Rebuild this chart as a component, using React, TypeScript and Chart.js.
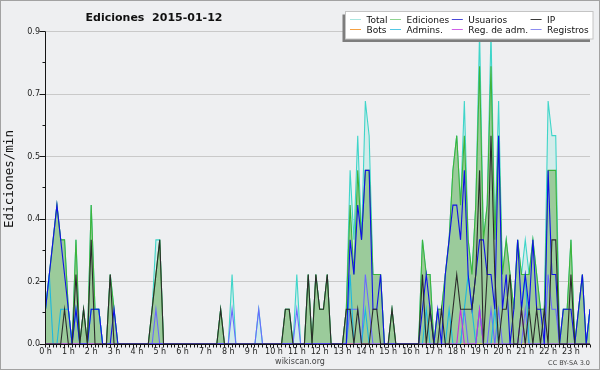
import React, { useEffect, useRef } from "react";
import { Chart, registerables } from "chart.js";

Chart.register(...registerables);

// ---- data (edits per minute, 10-minute bins, 144 per day) ----
const HOUR_LABELS = [
  "0 h", "1 h", "2 h", "3 h", "4 h", "5 h", "6 h", "7 h", "8 h", "9 h", "10 h", "11 h",
  "12 h", "13 h", "14 h", "15 h", "16 h", "17 h", "18 h", "19 h", "20 h", "21 h", "22 h", "23 h",
];
const Y_TICKS = [0, 0.18, 0.36, 0.54, 0.72, 0.9];
const Y_LABELS = ["0.0", "0.2", "0.4", "0.5", "0.7", "0.9"];

const total = [
  0.1, 0.2, 0.3, 0.4, 0.3, 0.3,
  0.1, 0, 0.3, 0, 0.1, 0,
  0.4, 0.1, 0.1, 0, 0, 0.2,
  0.1, 0, 0, 0, 0, 0,
  0, 0, 0, 0, 0.1, 0.3,
  0.3, 0, 0, 0, 0, 0,
  0, 0, 0, 0, 0, 0,
  0, 0, 0, 0, 0.1, 0,
  0, 0.2, 0, 0, 0, 0,
  0, 0, 0.1, 0, 0, 0,
  0, 0, 0, 0.1, 0.1, 0,
  0.2, 0, 0, 0.2, 0, 0.2,
  0.1, 0.1, 0.2, 0, 0, 0,
  0, 0.1, 0.5, 0.3, 0.6, 0.3,
  0.7, 0.6, 0.2, 0.2, 0.2, 0,
  0, 0.1, 0, 0, 0, 0,
  0, 0, 0, 0.3, 0.2, 0.2,
  0, 0.1, 0.1, 0.2, 0.3, 0.5,
  0.6, 0.4, 0.7, 0.3, 0.2, 0.4,
  0.9, 0.3, 0.4, 0.9, 0.3, 0.7,
  0.2, 0.3, 0.2, 0.1, 0.3, 0.2,
  0.3, 0.2, 0.3, 0.2, 0.1, 0.1,
  0.7, 0.6, 0.6, 0, 0.1, 0.1,
  0.3, 0, 0.1, 0.2, 0, 0.1,
];

const ediciones = [
  0.1, 0.2, 0.3, 0.4, 0.3, 0.3,
  0.1, 0, 0.3, 0, 0.1, 0,
  0.4, 0.1, 0.1, 0, 0, 0.2,
  0.1, 0, 0, 0, 0, 0,
  0, 0, 0, 0, 0.1, 0.2,
  0.3, 0, 0, 0, 0, 0,
  0, 0, 0, 0, 0, 0,
  0, 0, 0, 0, 0.1, 0,
  0, 0, 0, 0, 0, 0,
  0, 0, 0, 0, 0, 0,
  0, 0, 0, 0.1, 0.1, 0,
  0, 0, 0, 0.2, 0, 0.2,
  0.1, 0.1, 0.2, 0, 0, 0,
  0, 0.1, 0.4, 0.2, 0.5, 0.3,
  0.5, 0.5, 0.2, 0.2, 0.2, 0,
  0, 0.1, 0, 0, 0, 0,
  0, 0, 0, 0.3, 0.2, 0.2,
  0, 0.1, 0.1, 0.2, 0.3, 0.5,
  0.6, 0.4, 0.6, 0.3, 0.2, 0.4,
  0.8, 0.3, 0.4, 0.8, 0.3, 0.6,
  0.2, 0.3, 0.2, 0.1, 0.3, 0.2,
  0.2, 0.2, 0.3, 0.2, 0.1, 0.1,
  0.5, 0.5, 0.5, 0, 0.1, 0.1,
  0.3, 0, 0.1, 0.2, 0, 0.1,
];

const usuarios = [
  0.1, 0.2, 0.3, 0.4, 0.3, 0.2,
  0.1, 0, 0.1, 0, 0, 0,
  0.1, 0.1, 0.1, 0, 0, 0,
  0.1, 0, 0, 0, 0, 0,
  0, 0, 0, 0, 0, 0,
  0, 0, 0, 0, 0, 0,
  0, 0, 0, 0, 0, 0,
  0, 0, 0, 0, 0, 0,
  0, 0, 0, 0, 0, 0,
  0, 0, 0, 0, 0, 0,
  0, 0, 0, 0, 0, 0,
  0, 0, 0, 0, 0, 0,
  0, 0, 0, 0, 0, 0,
  0, 0, 0.3, 0.2, 0.4, 0.3,
  0.5, 0.5, 0.1, 0.1, 0.2, 0,
  0, 0, 0, 0, 0, 0,
  0, 0, 0, 0.1, 0.2, 0.1,
  0, 0.1, 0, 0.2, 0.3, 0.4,
  0.4, 0.3, 0.5, 0.2, 0.1, 0.2,
  0.3, 0.3, 0.2, 0.2, 0.1, 0.6,
  0.1, 0.2, 0, 0.1, 0.3, 0.1,
  0.2, 0.1, 0.3, 0.1, 0.1, 0,
  0.5, 0.2, 0.2, 0, 0.1, 0.1,
  0.1, 0, 0.1, 0.2, 0, 0.1,
];

const ip = [
  0, 0, 0, 0, 0, 0.1,
  0, 0, 0.2, 0, 0.1, 0,
  0.3, 0, 0, 0, 0, 0.2,
  0, 0, 0, 0, 0, 0,
  0, 0, 0, 0, 0.1, 0.2,
  0.3, 0, 0, 0, 0, 0,
  0, 0, 0, 0, 0, 0,
  0, 0, 0, 0, 0.1, 0,
  0, 0, 0, 0, 0, 0,
  0, 0, 0, 0, 0, 0,
  0, 0, 0, 0.1, 0.1, 0,
  0, 0, 0, 0.2, 0, 0.2,
  0.1, 0.1, 0.2, 0, 0, 0,
  0, 0.1, 0.1, 0, 0.1, 0,
  0, 0, 0.1, 0.1, 0, 0,
  0, 0.1, 0, 0, 0, 0,
  0, 0, 0, 0.2, 0, 0.1,
  0, 0, 0.1, 0, 0, 0.1,
  0.2, 0.1, 0.1, 0.1, 0.1, 0.2,
  0.5, 0, 0.2, 0.6, 0.2, 0,
  0.1, 0.1, 0.2, 0, 0, 0.1,
  0, 0.1, 0, 0.1, 0, 0.1,
  0, 0.3, 0.3, 0, 0, 0,
  0.2, 0, 0, 0, 0, 0,
];

const bots = [
  0, 0, 0, 0, 0, 0, 0, 0, 0, 0, 0, 0, 0, 0, 0, 0, 0, 0, 0, 0, 0, 0, 0, 0,
  0, 0, 0, 0, 0, 0, 0, 0, 0, 0, 0, 0, 0, 0, 0, 0, 0, 0, 0, 0, 0, 0, 0, 0,
  0, 0, 0, 0, 0, 0, 0, 0, 0, 0, 0, 0, 0, 0, 0, 0, 0, 0, 0, 0, 0, 0, 0, 0,
  0, 0, 0, 0, 0, 0, 0, 0, 0, 0, 0, 0, 0, 0, 0, 0, 0, 0, 0, 0, 0, 0, 0, 0,
  0, 0, 0, 0, 0, 0, 0, 0, 0, 0, 0, 0, 0, 0, 0, 0, 0, 0, 0, 0, 0, 0, 0, 0,
  0, 0, 0, 0, 0, 0, 0, 0, 0, 0, 0, 0, 0, 0, 0, 0, 0, 0, 0, 0, 0, 0, 0, 0,
];

const admins = [
  0.1, 0.2, 0, 0, 0.1, 0.1,
  0.1, 0, 0.1, 0, 0, 0,
  0.1, 0.1, 0.1, 0, 0, 0,
  0, 0, 0, 0, 0, 0,
  0, 0, 0, 0, 0, 0,
  0, 0, 0, 0, 0, 0,
  0, 0, 0, 0, 0, 0,
  0, 0, 0, 0, 0, 0,
  0, 0, 0, 0, 0, 0,
  0, 0, 0, 0, 0, 0,
  0, 0, 0, 0, 0, 0,
  0, 0, 0, 0, 0, 0,
  0, 0, 0, 0, 0, 0,
  0, 0, 0.2, 0, 0, 0,
  0.1, 0, 0, 0, 0, 0,
  0, 0, 0, 0, 0, 0,
  0, 0, 0, 0, 0.1, 0,
  0, 0, 0, 0, 0.1, 0,
  0, 0, 0.1, 0.2, 0.1, 0,
  0.1, 0, 0, 0, 0.1, 0,
  0, 0, 0, 0, 0, 0.1,
  0.2, 0, 0, 0, 0, 0,
  0, 0, 0, 0, 0, 0,
  0, 0, 0, 0, 0, 0.1,
];

const regAdm = [
  0, 0, 0, 0, 0, 0, 0, 0, 0, 0, 0, 0, 0, 0, 0, 0, 0, 0, 0, 0, 0, 0, 0, 0,
  0, 0, 0, 0, 0, 0, 0, 0, 0, 0, 0, 0, 0, 0, 0, 0, 0, 0, 0, 0, 0, 0, 0, 0,
  0, 0, 0, 0, 0, 0, 0, 0, 0, 0, 0, 0, 0, 0, 0, 0, 0, 0, 0, 0, 0, 0, 0, 0,
  0, 0, 0, 0, 0, 0, 0, 0, 0, 0, 0, 0, 0, 0, 0, 0, 0, 0, 0, 0, 0, 0, 0, 0,
  0, 0, 0, 0, 0, 0, 0, 0, 0, 0, 0, 0, 0, 0.1, 0, 0, 0, 0, 0.1, 0, 0, 0, 0, 0,
  0, 0, 0, 0, 0, 0.1, 0, 0, 0, 0, 0, 0, 0, 0, 0, 0, 0, 0, 0, 0, 0, 0, 0, 0,
];

const registros = [
  0, 0, 0, 0, 0, 0,
  0, 0, 0, 0, 0, 0,
  0, 0, 0, 0, 0, 0,
  0, 0, 0, 0, 0, 0,
  0, 0, 0, 0, 0, 0.1,
  0, 0, 0, 0, 0, 0,
  0, 0, 0, 0, 0, 0,
  0, 0, 0, 0, 0, 0,
  0, 0.1, 0, 0, 0, 0,
  0, 0, 0.1, 0, 0, 0,
  0, 0, 0, 0, 0, 0,
  0.1, 0, 0, 0, 0, 0,
  0, 0, 0, 0, 0, 0,
  0, 0, 0.1, 0.1, 0.1, 0,
  0.2, 0.1, 0, 0, 0, 0,
  0, 0, 0, 0, 0, 0,
  0, 0, 0, 0, 0, 0,
  0, 0, 0, 0, 0, 0,
  0, 0, 0.1, 0, 0, 0,
  0.1, 0, 0, 0.1, 0, 0.1,
  0, 0, 0, 0, 0, 0,
  0.1, 0, 0, 0, 0, 0,
  0.2, 0.1, 0.1, 0, 0, 0,
  0, 0, 0, 0, 0, 0,
];

const LEGEND_NAMES = ["Total", "Ediciones", "Usuarios", "IP", "Bots", "Admins.", "Reg. de adm.", "Registros"];
const LEGEND_COLORS = ["#a9e6e0", "#8fd48f", "#4848d8", "#3a3a3a", "#f5a142", "#52c8e4", "#d060e8", "#8c8cf0"];

const FONT = '"DejaVu Sans", Verdana, sans-serif';
const BG = "#eeeff1";
const AXIS = "#151515";

const pts = (arr: number[]) => arr.map((v, i) => ({ x: i, y: v }));

const decor = {
  id: "decor",
  beforeDraw(chart: any) {
    const { ctx, width, height } = chart;
    ctx.save();
    ctx.fillStyle = BG;
    ctx.fillRect(0, 0, width, height);
    ctx.restore();
  },
  afterDatasetsDraw(chart: any) {
    const { ctx, chartArea, scales } = chart;
    const { left, right, top, bottom } = chartArea;
    const x = scales.x;
    const y = scales.y;
    ctx.save();
    ctx.strokeStyle = AXIS;
    ctx.lineWidth = 1;
    ctx.beginPath();
    const ax = Math.floor(left) + 0.5;
    const by = Math.floor(bottom) + 0.5;
    ctx.moveTo(ax, top);
    ctx.lineTo(ax, by);
    ctx.lineTo(right, by);
    // y ticks: major at labelled values, minor halfway
    for (let k = 0; k <= 10; k++) {
      const v = (k * 0.9) / 10;
      const py = Math.floor(y.getPixelForValue(v)) + 0.5;
      const len = k % 2 === 0 ? 6 : 3;
      ctx.moveTo(ax - len, py);
      ctx.lineTo(ax, py);
    }
    // x ticks: every 10 minutes
    for (let i = 0; i <= 143; i++) {
      const px = Math.floor(x.getPixelForValue(i)) + 0.5;
      ctx.moveTo(px, by);
      ctx.lineTo(px, by + 3);
    }
    ctx.stroke();
    ctx.restore();
  },
  afterDraw(chart: any) {
    const { ctx, width, height } = chart;
    ctx.save();
    // title
    ctx.fillStyle = "#111";
    ctx.font = `bold 11px ${FONT}`;
    ctx.textAlign = "center";
    ctx.textBaseline = "alphabetic";
    ctx.fillText("Ediciones  2015-01-12", 154, 21);

    // y axis title
    ctx.save();
    ctx.translate(10, 179);
    ctx.rotate(-Math.PI / 2);
    ctx.font = `12.5px "DejaVu Sans Mono", monospace`;
    ctx.textAlign = "center";
    ctx.textBaseline = "middle";
    ctx.fillStyle = "#111";
    ctx.fillText("Ediciones/min", 0, 0);
    ctx.restore();

    // legend box
    const bx = 345.5, byy = 11.5, bw = 247.5, bh = 27.5;
    ctx.fillStyle = "#7d7d7d";
    ctx.fillRect(bx - 3, byy + 3, bw, bh);
    ctx.fillStyle = "#ffffff";
    ctx.fillRect(bx, byy, bw, bh);
    ctx.strokeStyle = "#c4c4c4";
    ctx.lineWidth = 1;
    ctx.strokeRect(bx, byy, bw, bh);
    ctx.font = `9px ${FONT}`;
    ctx.textAlign = "left";
    ctx.textBaseline = "alphabetic";
    let cx = 350;
    for (let c = 0; c < 4; c++) {
      const w = Math.max(ctx.measureText(LEGEND_NAMES[c]).width, ctx.measureText(LEGEND_NAMES[c + 4]).width);
      for (let r = 0; r < 2; r++) {
        const idx = c + r * 4;
        const ly = r === 0 ? 19.5 : 29.5;
        ctx.strokeStyle = LEGEND_COLORS[idx];
        ctx.beginPath();
        ctx.moveTo(cx, ly);
        ctx.lineTo(cx + 11, ly);
        ctx.stroke();
        ctx.fillStyle = "#111";
        ctx.fillText(LEGEND_NAMES[idx], cx + 16.5, r === 0 ? 23 : 33);
      }
      cx = cx + 16.5 + w + 2.5;
    }

    // footer
    ctx.fillStyle = "#444";
    ctx.font = `8px ${FONT}`;
    ctx.textAlign = "center";
    ctx.textBaseline = "middle";
    ctx.fillText("wikiscan.org", 300, 362);
    ctx.font = `6.5px ${FONT}`;
    ctx.textAlign = "right";
    ctx.fillText("CC BY-SA 3.0", 590, 363);

    // outer border
    ctx.strokeStyle = "#a2a2a2";
    ctx.lineWidth = 1;
    ctx.strokeRect(0.5, 0.5, width - 1, height - 1);
    ctx.restore();
  },
};

export default function App() {
  const ref = useRef<HTMLCanvasElement | null>(null);
  useEffect(() => {
    if (!ref.current) return;
    const line = (label: string, data: number[], color: string, order: number, extra: any = {}) => ({
      label,
      data: pts(data),
      borderColor: color,
      backgroundColor: color,
      borderWidth: 1.1,
      pointRadius: 0,
      tension: 0,
      fill: false,
      order,
      ...extra,
    });
    const chart = new Chart(ref.current, {
      type: "line",
      data: {
        datasets: [
          line("Total", total, "#3fd5c9", 9, { fill: "origin", backgroundColor: "#d3ecea" }),
          line("Ediciones", ediciones, "#3cb43c", 8, { fill: "origin", backgroundColor: "#9bcb9b" }),
          line("Bots", bots, "#f5a142", 7),
          line("Registros", registros, "#6a6aff", 6),
          line("Admins.", admins, "#1cb8e0", 5),
          line("Reg. de adm.", regAdm, "#c030e0", 4),
          line("Usuarios", usuarios, "#1010e8", 3),
          line("IP", ip, "#2b2b2b", 2),
        ] as any,
      },
      options: {
        responsive: false,
        animation: false,
        devicePixelRatio: 1,
        events: [],
        layout: { padding: { left: 0, right: 10, top: 31.5, bottom: 0 } },
        plugins: {
          legend: { display: false },
          title: { display: false },
          tooltip: { enabled: false },
        },
        scales: {
          x: {
            type: "linear",
            min: 0,
            max: 143,
            afterBuildTicks: (s: any) => {
              s.ticks = HOUR_LABELS.map((_, h) => ({ value: h * 6 }));
            },
            afterFit: (s: any) => {
              s.height = 26;
            },
            grid: { display: false, drawTicks: false },
            border: { display: false },
            ticks: {
              autoSkip: false,
              maxRotation: 0,
              padding: 3,
              color: "#222",
              font: { family: FONT, size: 8 },
              callback: (v: any) => HOUR_LABELS[Math.round(Number(v) / 6)],
            },
          },
          y: {
            min: 0,
            max: 0.9,
            afterBuildTicks: (s: any) => {
              s.ticks = Y_TICKS.map((v) => ({ value: v }));
            },
            afterFit: (s: any) => {
              s.width = 45.5;
            },
            grid: { color: "#c9c9c9", drawTicks: false, lineWidth: 1 },
            border: { display: false },
            ticks: {
              padding: 5.5,
              color: "#222",
              font: { family: FONT, size: 8 },
              callback: (_v: any, i: number) => Y_LABELS[i],
            },
          },
        },
      } as any,
      plugins: [decor as any],
    });
    return () => chart.destroy();
  }, []);
  return (
    <div style={{ position: "absolute", left: 0, top: 0, width: 600, height: 370 }}>
      <canvas ref={ref} width={600} height={370} style={{ display: "block", width: 600, height: 370 }} />
    </div>
  );
}
